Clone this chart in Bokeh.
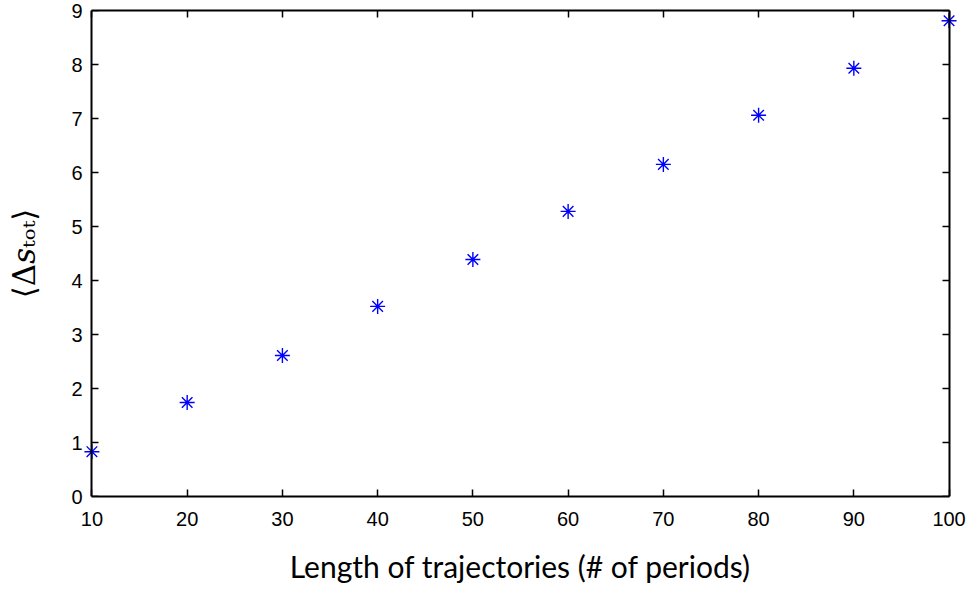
from bokeh.plotting import figure
from bokeh.models import LinearAxis, Range1d, FixedTicker, CustomJSTickFormatter
from bokeh.embed import file_html
from bokeh.resources import INLINE

lengths = [10, 20, 30, 40, 50, 60, 70, 80, 90, 100]
mean_entropy = [0.83, 1.74, 2.61, 3.52, 4.39, 5.28, 6.15, 7.06, 7.93, 8.81]
x_ticks = [10, 20, 30, 40, 50, 60, 70, 80, 90, 100]
y_ticks = [0, 1, 2, 3, 4, 5, 6, 7, 8, 9]

x_lo, x_hi = x_ticks[0], x_ticks[-1]
y_lo, y_hi = y_ticks[0], y_ticks[-1]
pad = 1.2

p = figure(width=973, height=590, output_backend="svg", toolbar_location=None,
           x_range=Range1d(x_lo - pad, x_hi + pad), y_range=Range1d(y_lo, y_hi),
           min_border_left=80, min_border_right=13, min_border_top=10, min_border_bottom=94,
           x_axis_location=None, y_axis_location=None)
p.grid.visible = False
p.outline_line_color = None
p.background_fill_color = "white"
p.border_fill_color = "white"

p.scatter(lengths, mean_entropy, marker="asterisk", size=15, line_color="#0000ff", line_width=1.4)


def style(ax):
    ax.major_tick_in = 7
    ax.major_tick_out = 0
    ax.minor_tick_in = 0
    ax.minor_tick_out = 0
    ax.axis_line_color = "black"
    ax.axis_line_width = 2
    ax.major_tick_line_color = "black"
    ax.major_tick_line_width = 1.5
    ax.major_label_text_font = "Liberation Sans"
    ax.major_label_text_font_size = "20px"
    ax.major_label_text_color = "black"


blank = CustomJSTickFormatter(code="return '';")

# bottom axis with labels
bottom = LinearAxis(ticker=FixedTicker(ticks=x_ticks), bounds=(x_lo, x_hi))
style(bottom)
bottom.major_label_standoff = 15
bottom.axis_label = "Length of trajectories (# of periods)"
bottom.axis_label_text_font = "Lato"
bottom.axis_label_text_font_style = "normal"
bottom.axis_label_text_font_size = "30px"
bottom.axis_label_text_color = "black"
bottom.axis_label_standoff = 19

# top axis (ticks only)
top = LinearAxis(ticker=FixedTicker(ticks=x_ticks), formatter=blank, bounds=(x_lo, x_hi))
style(top)
top.major_label_text_font_size = "1px"
top.major_label_standoff = 0

# left labels and title (at frame edge, no line/ticks)
left_lab = LinearAxis(ticker=FixedTicker(ticks=y_ticks))
style(left_lab)
left_lab.axis_line_color = None
left_lab.major_tick_line_color = None
left_lab.major_label_standoff = -2
left_lab.axis_label = "⟨Δ𝑠ₜₒₜ⟩"
left_lab.axis_label_text_font = "DejaVu Serif"
left_lab.axis_label_text_font_style = "normal"
left_lab.axis_label_text_font_size = "31px"
left_lab.axis_label_text_color = "black"
left_lab.axis_label_standoff = 26

# left and right box lines with inward ticks at x = 10 and x = 100
left_line = LinearAxis(ticker=FixedTicker(ticks=y_ticks), formatter=blank,
                       fixed_location=x_lo, bounds=(y_lo, y_hi))
right_line = LinearAxis(ticker=FixedTicker(ticks=y_ticks), formatter=blank,
                        fixed_location=x_hi, bounds=(y_lo, y_hi))
for ax in (left_line, right_line):
    style(ax)
    ax.major_label_text_font_size = "1px"
    ax.major_label_standoff = 0

p.add_layout(bottom, "below")
p.add_layout(top, "above")
p.add_layout(left_lab, "left")
p.add_layout(left_line, "left")
p.add_layout(right_line, "right")

open("out.html", "w").write(file_html(p, INLINE))
